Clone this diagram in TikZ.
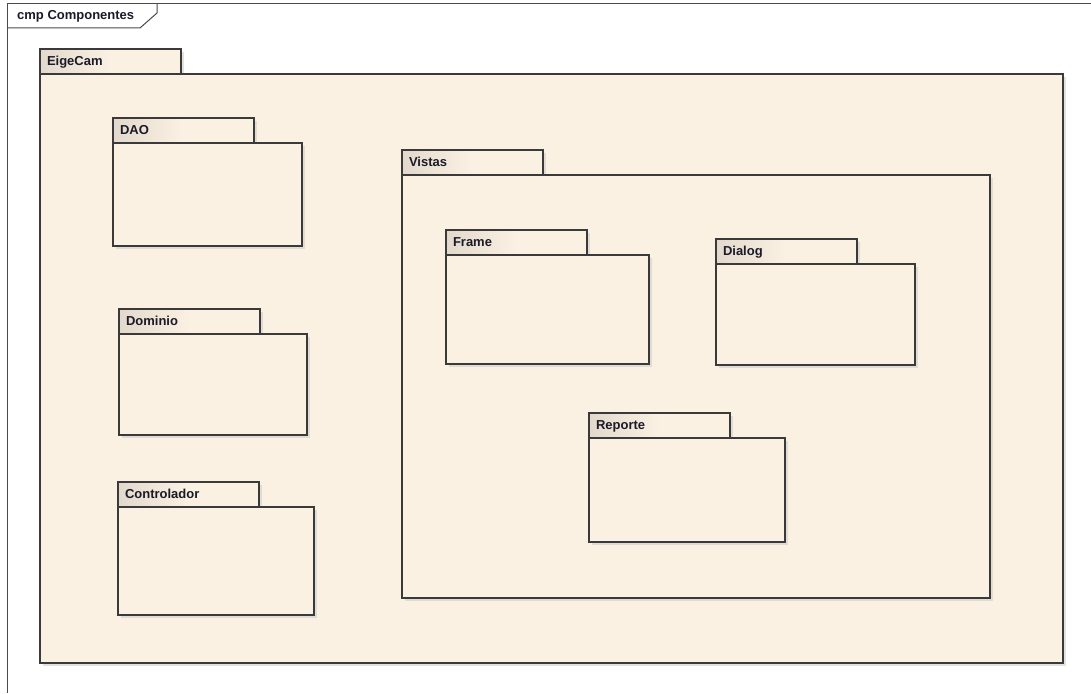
\documentclass[tikz,border=0pt]{standalone}
\usepackage{fontspec}
\setmainfont{Liberation Sans}
\usepackage{xcolor}
\usepackage{tikz}
\usetikzlibrary{positioning,shadows}
\definecolor{CmpFill}{HTML}{FBF1E3}
\definecolor{CmpTab}{HTML}{E2D9CC}
\definecolor{CmpLine}{HTML}{3A3A3A}
\definecolor{CmpFrame}{HTML}{4A4A4A}
\definecolor{CmpText}{HTML}{1A1A28}

\begin{document}
\begin{tikzpicture}[x=1pt,y=-1pt,
 pkgtab/.style={draw=CmpLine,line width=1.2pt,anchor=north west,outer sep=0pt,
  left color=CmpTab,right color=CmpFill,middle color=CmpFill,
  minimum width=141pt,minimum height=25pt,text width=127pt,inner xsep=7pt,
  text height=9pt,text depth=2pt,align=left,text=CmpText,
  font=\bfseries\fontsize{13}{15}\selectfont,
  drop shadow={shadow xshift=3pt,shadow yshift=-3pt,fill=black!22}},
 pkgbody/.style={draw=CmpLine,line width=1.2pt,anchor=north west,outer sep=0pt,fill=CmpFill,
  drop shadow={shadow xshift=3pt,shadow yshift=-3pt,fill=black!22}},
 framelbl/.style={anchor=west,inner sep=0pt,text=CmpText,
  font=\bfseries\fontsize{13}{15}\selectfont}]
\useasboundingbox[fill=white] (0,0) rectangle (1091,693);
% diagram frame
\draw[CmpFrame,line width=1pt] (7.5,693) -- (7.5,3.5) -- (1091,3.5);
\draw[CmpFrame,line width=1pt] (7.5,28) -- (140,28) -- (157,13) -- (157,3.5);
\node[framelbl] (frame-label) at (17,16.5) {cmp Componentes};
% EigeCam
\node[pkgtab] (eigecam-tab) at (40,49) {EigeCam};
\node[pkgbody,minimum width=1023pt,minimum height=589pt] (eigecam) at (eigecam-tab.south west) {};
% left column
\node[pkgtab] (dao-tab) at (113,118) {DAO};
\node[pkgbody,minimum width=189pt,minimum height=103pt] (dao) at (dao-tab.south west) {};
\node[pkgtab] (dominio-tab) at (119,309) {Dominio};
\node[pkgbody,minimum width=188pt,minimum height=101pt] (dominio) at (dominio-tab.south west) {};
\node[pkgtab] (controlador-tab) at (118,482) {Controlador};
\node[pkgbody,minimum width=196pt,minimum height=108pt] (controlador) at (controlador-tab.south west) {};
% Vistas
\node[pkgtab] (vistas-tab) at (402,150) {Vistas};
\node[pkgbody,minimum width=588pt,minimum height=423pt] (vistas) at (vistas-tab.south west) {};
\node[pkgtab] (frame-tab) at (446,230) {Frame};
\node[pkgbody,minimum width=203pt,minimum height=109pt] (frame) at (frame-tab.south west) {};
\node[pkgtab] (dialog-tab) at (716,239) {Dialog};
\node[pkgbody,minimum width=199pt,minimum height=101pt] (dialog) at (dialog-tab.south west) {};
\node[pkgtab] (reporte-tab) at (589,413) {Reporte};
\node[pkgbody,minimum width=196pt,minimum height=104pt] (reporte) at (reporte-tab.south west) {};
\end{tikzpicture}
\end{document}
